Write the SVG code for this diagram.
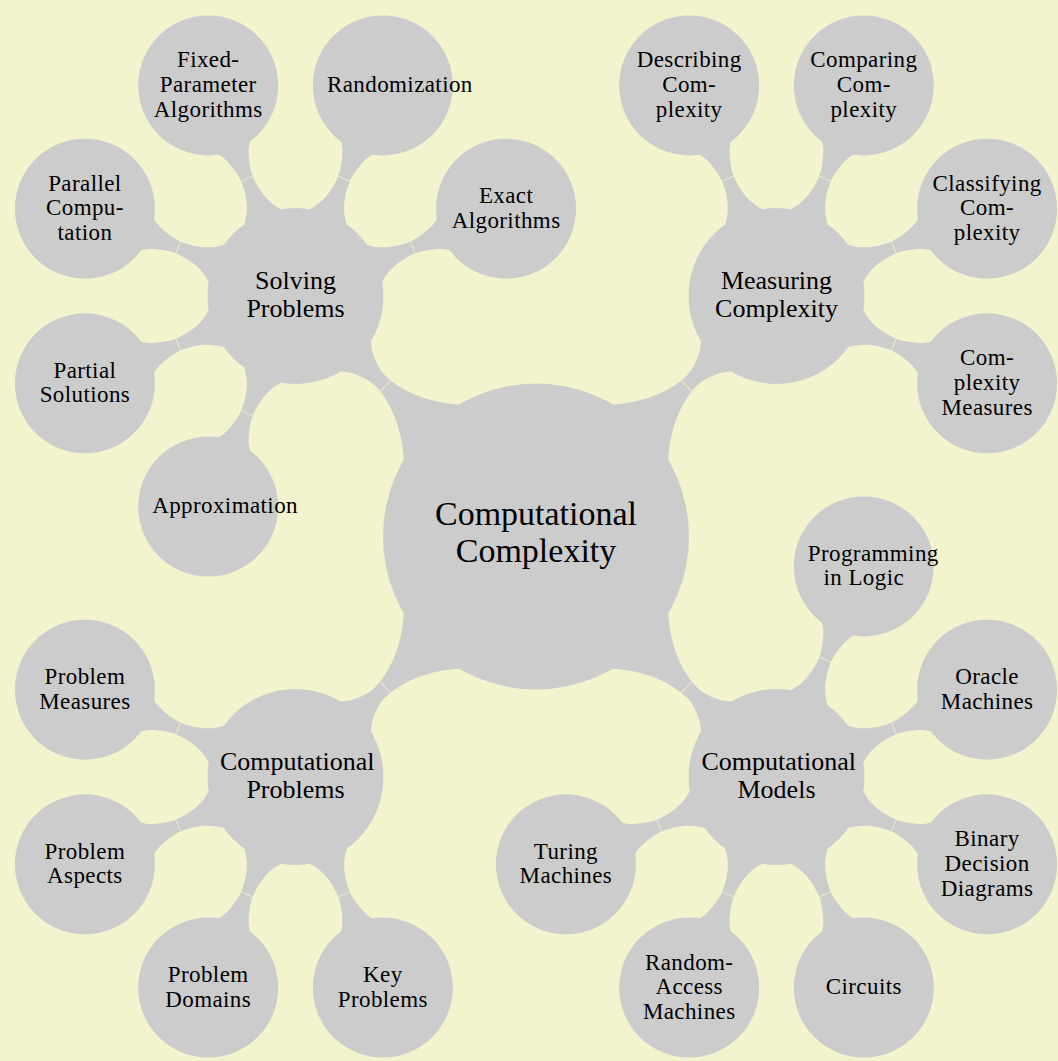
<svg xmlns="http://www.w3.org/2000/svg" xmlns:xlink="http://www.w3.org/1999/xlink" width="1058" height="1061" viewBox="0 0 1058 1061">
<style>
.bar{fill:#cccccc}
.seam{stroke:#f3f4ce;stroke-opacity:0.75;stroke-width:1;fill:none}
circle{fill:#cccccc}
text{font-family:"Liberation Serif","Times New Roman",serif;fill:#000;text-anchor:middle}
.t0{font-size:34px}
.t1{font-size:26px}
.t2{font-size:23px;letter-spacing:0.4px}
.l{text-anchor:start}
</style>
<defs>
<path id="barRoot" d="M147.9,39 C162.7,25.6 191,7.2 221,7.2 C231,7.2 248.9,14 254.9,22 L254.9,-22 C248.9,-14 231,-7.2 221,-7.2 C191,-7.2 162.7,-25.6 147.9,-39 Z"/>
<path id="bar1" d="M85.7,20 C94,12.5 108,6.3 127,6.3 C134,6.3 155,11 160.2,17.5 L160.2,-17.5 C155,-11 134,-6.3 127,-6.3 C108,-6.3 94,-12.5 85.7,-20 Z"/>
<g id="barRootS"><use xlink:href="#barRoot" class="bar"/><line class="seam" x1="213" y1="-7.8" x2="213" y2="7.8"/></g>
<g id="bar1S"><use xlink:href="#bar1" class="bar"/><line class="seam" x1="127" y1="-6.4" x2="127" y2="6.4"/></g>
</defs>
<rect x="0" y="0" width="1058" height="1061" fill="#f3f4ce"/>
<g id="connectors">
<use xlink:href="#barRootS" transform="translate(536,536.5) rotate(-135)"/>
<use xlink:href="#barRootS" transform="translate(536,536.5) rotate(-45)"/>
<use xlink:href="#barRootS" transform="translate(536,536.5) rotate(135)"/>
<use xlink:href="#barRootS" transform="translate(536,536.5) rotate(45)"/>
<use xlink:href="#bar1S" transform="translate(295.5,296) rotate(-22.5)"/>
<use xlink:href="#bar1S" transform="translate(295.5,296) rotate(-67.5)"/>
<use xlink:href="#bar1S" transform="translate(295.5,296) rotate(-112.5)"/>
<use xlink:href="#bar1S" transform="translate(295.5,296) rotate(-157.5)"/>
<use xlink:href="#bar1S" transform="translate(295.5,296) rotate(157.5)"/>
<use xlink:href="#bar1S" transform="translate(295.5,296) rotate(112.5)"/>
<use xlink:href="#bar1S" transform="translate(776.5,296) rotate(-112.5)"/>
<use xlink:href="#bar1S" transform="translate(776.5,296) rotate(-67.5)"/>
<use xlink:href="#bar1S" transform="translate(776.5,296) rotate(-22.5)"/>
<use xlink:href="#bar1S" transform="translate(776.5,296) rotate(22.5)"/>
<use xlink:href="#bar1S" transform="translate(295.5,777) rotate(-157.5)"/>
<use xlink:href="#bar1S" transform="translate(295.5,777) rotate(157.5)"/>
<use xlink:href="#bar1S" transform="translate(295.5,777) rotate(112.5)"/>
<use xlink:href="#bar1S" transform="translate(295.5,777) rotate(67.5)"/>
<use xlink:href="#bar1S" transform="translate(776.5,777) rotate(-67.5)"/>
<use xlink:href="#bar1S" transform="translate(776.5,777) rotate(-22.5)"/>
<use xlink:href="#bar1S" transform="translate(776.5,777) rotate(22.5)"/>
<use xlink:href="#bar1S" transform="translate(776.5,777) rotate(67.5)"/>
<use xlink:href="#bar1S" transform="translate(776.5,777) rotate(112.5)"/>
<use xlink:href="#bar1S" transform="translate(776.5,777) rotate(157.5)"/>
</g>
<g id="root">
<circle cx="536" cy="536.5" r="153"/>
<text class="t0"><tspan x="536" y="525">Computational</tspan><tspan x="536" y="561.5">Complexity</tspan></text>
</g>
<g id="solving-problems">
<circle cx="295.5" cy="296" r="88"/>
<text class="t1"><tspan x="295.5" y="289.3">Solving</tspan><tspan x="295.5" y="317.3">Problems</tspan></text>
</g>
<g id="measuring-complexity">
<circle cx="776.5" cy="296" r="88"/>
<text class="t1"><tspan x="776.5" y="289.3">Measuring</tspan><tspan x="776.5" y="317.3">Complexity</tspan></text>
</g>
<g id="computational-problems">
<circle cx="295.5" cy="777" r="88"/>
<text class="t1"><tspan class="l" x="220" y="770.3">Computational</tspan><tspan x="295.5" y="798.3">Problems</tspan></text>
</g>
<g id="computational-models">
<circle cx="776.5" cy="777" r="88"/>
<text class="t1"><tspan class="l" x="701.5" y="770.3">Computational</tspan><tspan x="776.5" y="798.3">Models</tspan></text>
</g>
<g id="exact-algorithms">
<circle cx="506.1" cy="208.7" r="70"/>
<text class="t2"><tspan x="506.1" y="203">Exact</tspan><tspan x="506.1" y="227.6">Algorithms</tspan></text>
</g>
<g id="randomization">
<circle cx="382.8" cy="85.4" r="70"/>
<text class="t2 l"><tspan x="327" y="92">Randomization</tspan></text>
</g>
<g id="fixed-parameter-algorithms">
<circle cx="208.2" cy="85.4" r="70"/>
<text class="t2"><tspan x="208.2" y="67.3">Fixed-</tspan><tspan x="208.2" y="92">Parameter</tspan><tspan x="208.2" y="116.7">Algorithms</tspan></text>
</g>
<g id="parallel-computation">
<circle cx="84.9" cy="208.7" r="70"/>
<text class="t2"><tspan x="84.9" y="190.6">Parallel</tspan><tspan x="84.9" y="215.3">Compu-</tspan><tspan x="84.9" y="240">tation</tspan></text>
</g>
<g id="partial-solutions">
<circle cx="84.9" cy="383.3" r="70"/>
<text class="t2"><tspan x="84.9" y="377.6">Partial</tspan><tspan x="84.9" y="402.3">Solutions</tspan></text>
</g>
<g id="approximation">
<circle cx="208.2" cy="506.6" r="70"/>
<text class="t2 l"><tspan x="152.2" y="513.2">Approximation</tspan></text>
</g>
<g id="describing-complexity">
<circle cx="689.2" cy="85.4" r="70"/>
<text class="t2"><tspan x="689.2" y="67.3">Describing</tspan><tspan x="689.2" y="92">Com-</tspan><tspan x="689.2" y="116.7">plexity</tspan></text>
</g>
<g id="comparing-complexity">
<circle cx="863.8" cy="85.4" r="70"/>
<text class="t2"><tspan x="863.8" y="67.3">Comparing</tspan><tspan x="863.8" y="92">Com-</tspan><tspan x="863.8" y="116.7">plexity</tspan></text>
</g>
<g id="classifying-complexity">
<circle cx="987.1" cy="208.7" r="70"/>
<text class="t2"><tspan x="987.1" y="190.6">Classifying</tspan><tspan x="987.1" y="215.3">Com-</tspan><tspan x="987.1" y="240">plexity</tspan></text>
</g>
<g id="complexity-measures">
<circle cx="987.1" cy="383.3" r="70"/>
<text class="t2"><tspan x="987.1" y="365.2">Com-</tspan><tspan x="987.1" y="389.9">plexity</tspan><tspan x="987.1" y="414.6">Measures</tspan></text>
</g>
<g id="problem-measures">
<circle cx="84.9" cy="689.7" r="70"/>
<text class="t2"><tspan x="84.9" y="684">Problem</tspan><tspan x="84.9" y="708.7">Measures</tspan></text>
</g>
<g id="problem-aspects">
<circle cx="84.9" cy="864.3" r="70"/>
<text class="t2"><tspan x="84.9" y="858.6">Problem</tspan><tspan x="84.9" y="883.3">Aspects</tspan></text>
</g>
<g id="problem-domains">
<circle cx="208.2" cy="987.6" r="70"/>
<text class="t2"><tspan x="208.2" y="981.9">Problem</tspan><tspan x="208.2" y="1006.6">Domains</tspan></text>
</g>
<g id="key-problems">
<circle cx="382.8" cy="987.6" r="70"/>
<text class="t2"><tspan x="382.8" y="981.9">Key</tspan><tspan x="382.8" y="1006.6">Problems</tspan></text>
</g>
<g id="programming-in-logic">
<circle cx="863.8" cy="566.4" r="70"/>
<text class="t2"><tspan class="l" x="807.8" y="560.7">Programming</tspan><tspan x="863.8" y="585.4">in Logic</tspan></text>
</g>
<g id="oracle-machines">
<circle cx="987.1" cy="689.7" r="70"/>
<text class="t2"><tspan x="987.1" y="684">Oracle</tspan><tspan x="987.1" y="708.7">Machines</tspan></text>
</g>
<g id="binary-decision-diagrams">
<circle cx="987.1" cy="864.3" r="70"/>
<text class="t2"><tspan x="987.1" y="846.2">Binary</tspan><tspan x="987.1" y="870.9">Decision</tspan><tspan x="987.1" y="895.6">Diagrams</tspan></text>
</g>
<g id="circuits">
<circle cx="863.8" cy="987.6" r="70"/>
<text class="t2"><tspan x="863.8" y="994.2">Circuits</tspan></text>
</g>
<g id="random-access-machines">
<circle cx="689.2" cy="987.6" r="70"/>
<text class="t2"><tspan x="689.2" y="969.5">Random-</tspan><tspan x="689.2" y="994.2">Access</tspan><tspan x="689.2" y="1018.9">Machines</tspan></text>
</g>
<g id="turing-machines">
<circle cx="565.9" cy="864.3" r="70"/>
<text class="t2"><tspan x="565.9" y="858.6">Turing</tspan><tspan x="565.9" y="883.3">Machines</tspan></text>
</g>
</svg>
